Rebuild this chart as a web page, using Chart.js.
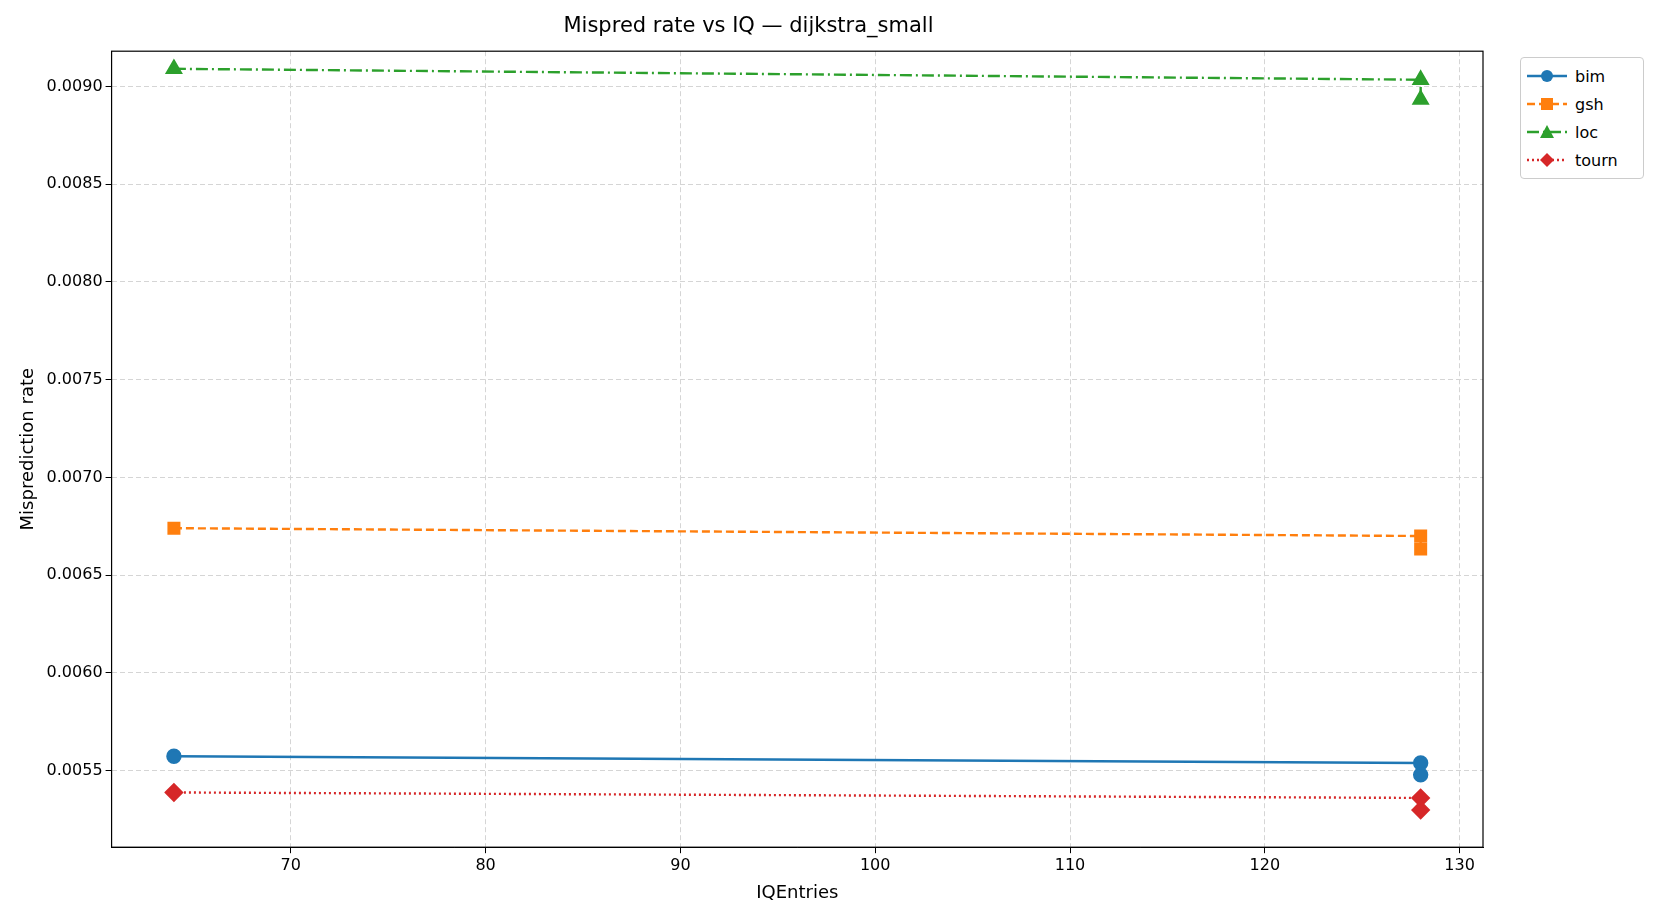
<!DOCTYPE html>
<html><head><meta charset="utf-8">
<script src="https://cdn.jsdelivr.net/npm/chart.js@4"></script>
<style>html,body{margin:0;background:#fff}#w{width:1661px;height:916px;position:relative}
#lg{position:absolute;left:1520px;top:57px;width:122px;border:1px solid #ccc;border-radius:4px;background:#fff;padding:4px 0;font:16px 'DejaVu Sans';color:#000}
#lg div{display:flex;align-items:center;height:28px}#lg svg{margin:0 8px 0 6px}</style>
</head><body><div id="w"><canvas id="c"></canvas><div id="lg"></div></div>
<script>
const xs = [64, 128, 128];
const bim = [0.005573, 0.005539, 0.005478];
const gsh = [0.006740, 0.006700, 0.006633];
const loc = [0.009090, 0.009034, 0.008933];
const tourn = [0.005388, 0.005360, 0.005298];
const pts = v => xs.map((x,i)=>({x, y:v[i]}));
const mk = (label, v, color, style, dash, r) => ({label, data: pts(v), borderColor: color, backgroundColor: color,
  pointStyle: style, pointRadius: r, borderWidth: 2.4, borderDash: dash, showLine: true, tension: 0});
const sets = [
  mk('bim', bim, '#1f77b4', 'circle', [], 6.5),
  mk('gsh', gsh, '#ff7f0e', 'rect', [8,4], 7.5),
  mk('loc', loc, '#2ca02c', 'triangle', [12,4,2,4], 8),
  mk('tourn', tourn, '#d62728', 'rectRot', [2,3], 8)
];
const shapes = {circle:c=>`<circle cx="20" cy="9" r="6" fill="${c}"/>`, rect:c=>`<rect x="14" y="3" width="12" height="12" fill="${c}"/>`,
  triangle:c=>`<polygon points="20,2 27,15 13,15" fill="${c}"/>`, rectRot:c=>`<polygon points="20,2 27,9 20,16 13,9" fill="${c}"/>`};
document.getElementById('lg').innerHTML = sets.map(s=>`<div><svg width="40" height="18"><line x1="0" y1="9" x2="40" y2="9" stroke="${s.borderColor}" stroke-width="2.4" stroke-dasharray="${s.borderDash.join(' ')}"/>${shapes[s.pointStyle](s.borderColor)}</svg>${s.label}</div>`).join('');
new Chart(document.getElementById('c'), {
  type: 'scatter',
  data: { datasets: sets },
  options: {
    responsive: true, maintainAspectRatio: false, animation: false,
    layout: { padding: { left: 14, right: 178, top: 8, bottom: 8 } },
    plugins: {
      title: { display: true, text: 'Mispred rate vs IQ — dijkstra_small', color: '#000', font: { size: 21, family: 'DejaVu Sans', weight: 'normal' }, padding: { top: 6, bottom: 12 } },
      legend: { display: false }
    },
    scales: {
      x: { type: 'linear', min: 60.8, max: 131.2, afterBuildTicks: a => { a.ticks = [70,80,90,100,110,120,130].map(v=>({value:v})); },
        title: { display: true, text: 'IQEntries', color: '#000', font: { size: 18, family: 'DejaVu Sans' } },
        ticks: { color: '#000', font: { size: 16, family: 'DejaVu Sans' } },
        grid: { color: '#d5d5d5', tickColor: '#000', tickLength: 6 }, border: { color: '#000', display: true, dash: [5,3] } },
      y: { min: 0.005108, max: 0.00918,
        afterBuildTicks: a => { a.ticks = [0.0055,0.006,0.0065,0.007,0.0075,0.008,0.0085,0.009].map(v=>({value:v})); },
        title: { display: true, text: 'Misprediction rate', color: '#000', font: { size: 18, family: 'DejaVu Sans' } },
        ticks: { color: '#000', font: { size: 16, family: 'DejaVu Sans' }, callback: v => v.toFixed(4) },
        grid: { color: '#d5d5d5', tickColor: '#000', tickLength: 6 }, border: { color: '#000', display: true, dash: [5,3] } }
    }
  },
  plugins: [{ id: 'frame', afterDraw(ch) { const {ctx, chartArea: a} = ch; ctx.save(); ctx.strokeStyle = '#000'; ctx.lineWidth = 1.2; ctx.strokeRect(a.left, a.top, a.right - a.left, a.bottom - a.top); ctx.restore(); } }]
});
</script></body></html>
